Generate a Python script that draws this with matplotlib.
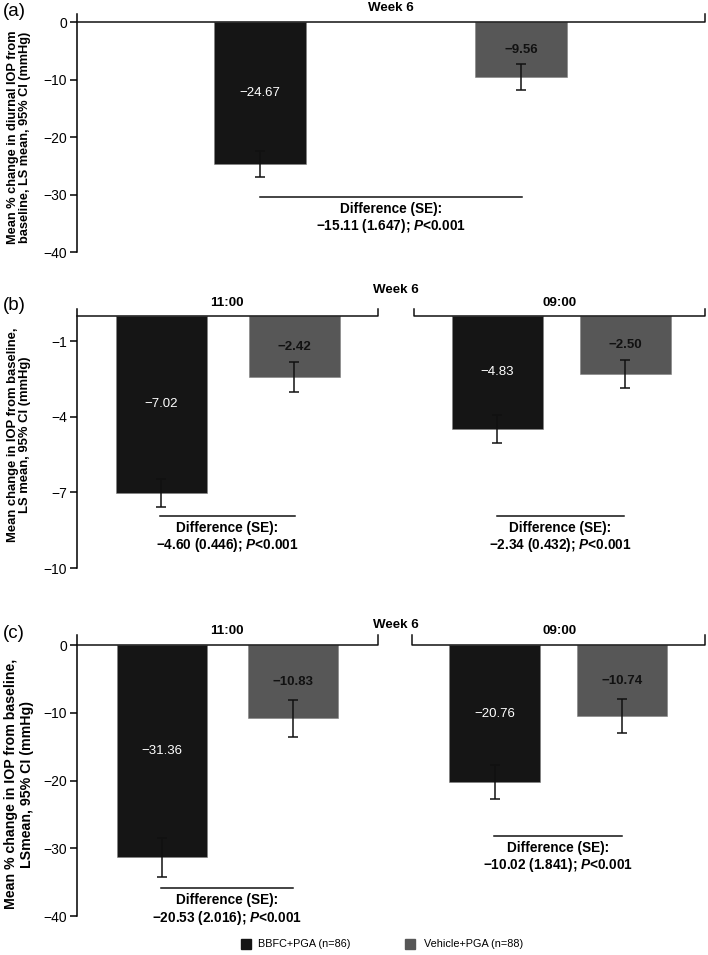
import matplotlib
matplotlib.use("Agg")
import matplotlib.pyplot as plt

plt.rcParams["font.family"] = ["Liberation Sans", "DejaVu Sans"]
plt.rcParams["mathtext.fontset"] = "custom"
plt.rcParams["mathtext.it"] = "Liberation Sans:bold:italic"
plt.rcParams["mathtext.rm"] = "Liberation Sans:bold"
plt.rcParams["mathtext.bf"] = "Liberation Sans:bold"

# panel (a): diurnal, week 6
a_vals = [-24.67, -9.56]
a_err = [2.3, 2.25]
a_labels = ["\u221224.67", "\u22129.56"]
a_diff = "\u221215.11 (1.647)"

# panel (b): absolute change at 11:00 and 09:00
times = ["11:00", "09:00"]
b_vals = [-7.02, -2.42, -4.48, -2.30]
b_err = [0.56, 0.61, 0.56, 0.55]
b_labels = ["\u22127.02", "\u22122.42", "\u22124.83", "\u22122.50"]
b_diff = ["\u22124.60 (0.446)", "\u22122.34 (0.432)"]

# panel (c): % change at 11:00 and 09:00
c_vals = [-31.36, -10.83, -20.2, -10.5]
c_err = [2.9, 2.8, 2.5, 2.5]
c_labels = ["\u221231.36", "\u221210.83", "\u221220.76", "\u221210.74"]
c_diff = ["\u221220.53 (2.016)", "\u221210.02 (1.841)"]

treatments = ["BBFC+PGA (n=86)", "Vehicle+PGA (n=88)"]
colors = ["#151515", "#575757"]
ptext = "; $P$<0.001"

W, H = 708, 955
fig = plt.figure(figsize=(W / 100, H / 100), dpi=100)


def make_ax(top, bottom, ylim, yticks):
    ax = fig.add_axes([77 / W, 1 - bottom / H, 628 / W, (bottom - top) / H])
    ax.set_xlim(0, 6.28)
    ax.set_ylim(*ylim)
    for s in ["top", "right", "bottom"]:
        ax.spines[s].set_visible(False)
    ax.spines["left"].set_linewidth(1.1)
    ax.set_xticks([])
    ax.set_yticks(yticks)
    ax.set_yticklabels(["\u2212%d" % -t if t < 0 else "%d" % t for t in yticks])
    ax.tick_params(axis="y", length=5, width=1.1, labelsize=10, pad=2)
    return ax


def bars(ax, xs, vals, errs, labels, width):
    for i, (x, v, e, lab) in enumerate(zip(xs, vals, errs, labels)):
        c = colors[i % 2]
        ax.bar(x, v, width=width, color=c, edgecolor="#808080", linewidth=0.4, zorder=2)
        ax.errorbar(x, v, yerr=e, fmt="none", ecolor="#111111", elinewidth=1.1,
                    capsize=3.6, capthick=1.1, zorder=3)
        if i % 2 == 0:
            ax.text(x, v / 2, lab, color="white", ha="center", va="center", fontsize=9.5)
        else:
            ax.text(x, v / 2, lab, color="#111111", ha="center", va="center",
                    fontsize=9.5, fontweight="bold")


def bracket(ax, x0, x1, top, left_tick=True):
    xs = [x0, x1, x1]
    ys = [0, 0, top]
    if left_tick:
        xs = [x0] + xs
        ys = [top] + ys
    ax.plot(xs, ys, color="#111111", lw=1.1, clip_on=False, zorder=4)


def diff(ax, x0, x1, y, txt):
    ax.plot([x0, x1], [y, y], color="#111111", lw=1.1, zorder=4)
    xm = (x0 + x1) / 2
    ax.annotate("Difference (SE):\n" + txt + ptext, (xm, y), xytext=(0, -5),
                textcoords="offset pixels", ha="center", va="top", fontsize=9.8,
                fontweight="bold", linespacing=1.1)


def top_text(ax, x, txt, dy):
    ax.annotate(txt, (x, 0), xytext=(0, dy), textcoords="offset pixels",
                ha="center", va="center", fontsize=9.6, fontweight="bold",
                annotation_clip=False)


# ---- (a)
ax = make_ax(14, 252, (-40, 1.4), [0, -10, -20, -30, -40])
bracket(ax, 0, 6.28, 1.4, left_tick=False)
bars(ax, [1.83, 4.44], a_vals, a_err, a_labels, 0.92)
diff(ax, 1.83, 4.45, -30.4, a_diff)
top_text(ax, 3.14, "Week 6", 14)

# ---- (b)
ax = make_ax(309, 568, (-10, 0.28), [-1, -4, -7, -10])
bracket(ax, 0, 3.01, 0.28, left_tick=False)
bracket(ax, 3.37, 6.28, 0.28)
bars(ax, [0.84, 2.17, 4.20, 5.48], b_vals, b_err, b_labels, 0.91)
diff(ax, 0.83, 2.18, -7.94, b_diff[0])
diff(ax, 4.20, 5.47, -7.94, b_diff[1])
top_text(ax, 3.19, "Week 6", 26)
top_text(ax, 1.5, times[0], 13)
top_text(ax, 4.83, times[1], 13)

# ---- (c)
ax = make_ax(635, 916, (-40, 1.5), [0, -10, -20, -30, -40])
bracket(ax, 0, 3.01, 1.5, left_tick=False)
bracket(ax, 3.35, 6.28, 1.5)
bars(ax, [0.845, 2.16, 4.175, 5.45], c_vals, c_err, c_labels, 0.90)
diff(ax, 0.84, 2.16, -35.9, c_diff[0])
diff(ax, 4.17, 5.45, -28.2, c_diff[1])
top_text(ax, 3.19, "Week 6", 20)
top_text(ax, 1.5, times[0], 14)
top_text(ax, 4.83, times[1], 14)

# y labels and panel letters
ylabels = [
    ("Mean % change in diurnal IOP from\nbaseline, LS mean, 95% CI (mmHg)", 137, 9.2),
    ("Mean change in IOP from baseline,\nLS mean, 95% CI (mmHg)", 435, 9.4),
    ("Mean % change in IOP from baseline,\nLSmean, 95% CI (mmHg)", 784, 10.2),
]
for txt, yc, fs in ylabels:
    fig.text(19 / W, 1 - yc / H, txt, rotation=90, ha="center", va="center",
             fontsize=fs, fontweight="bold", multialignment="center", linespacing=1.1)

for lab, yc in [("(a)", 11), ("(b)", 305), ("(c)", 633)]:
    fig.text(3 / W, 1 - yc / H, lab, ha="left", va="center", fontsize=13.5)

# legend
for (xs, xt), lab, c in zip([(241, 258), (405, 424)], treatments, colors):
    fig.patches.append(plt.Rectangle((xs / W, 1 - 949 / H), 10 / W, 10 / H,
                                     transform=fig.transFigure, color=c))
    fig.text(xt / W, 1 - 944 / H, lab, ha="left", va="center", fontsize=7.8)

fig.savefig("out.png", dpi=100)
